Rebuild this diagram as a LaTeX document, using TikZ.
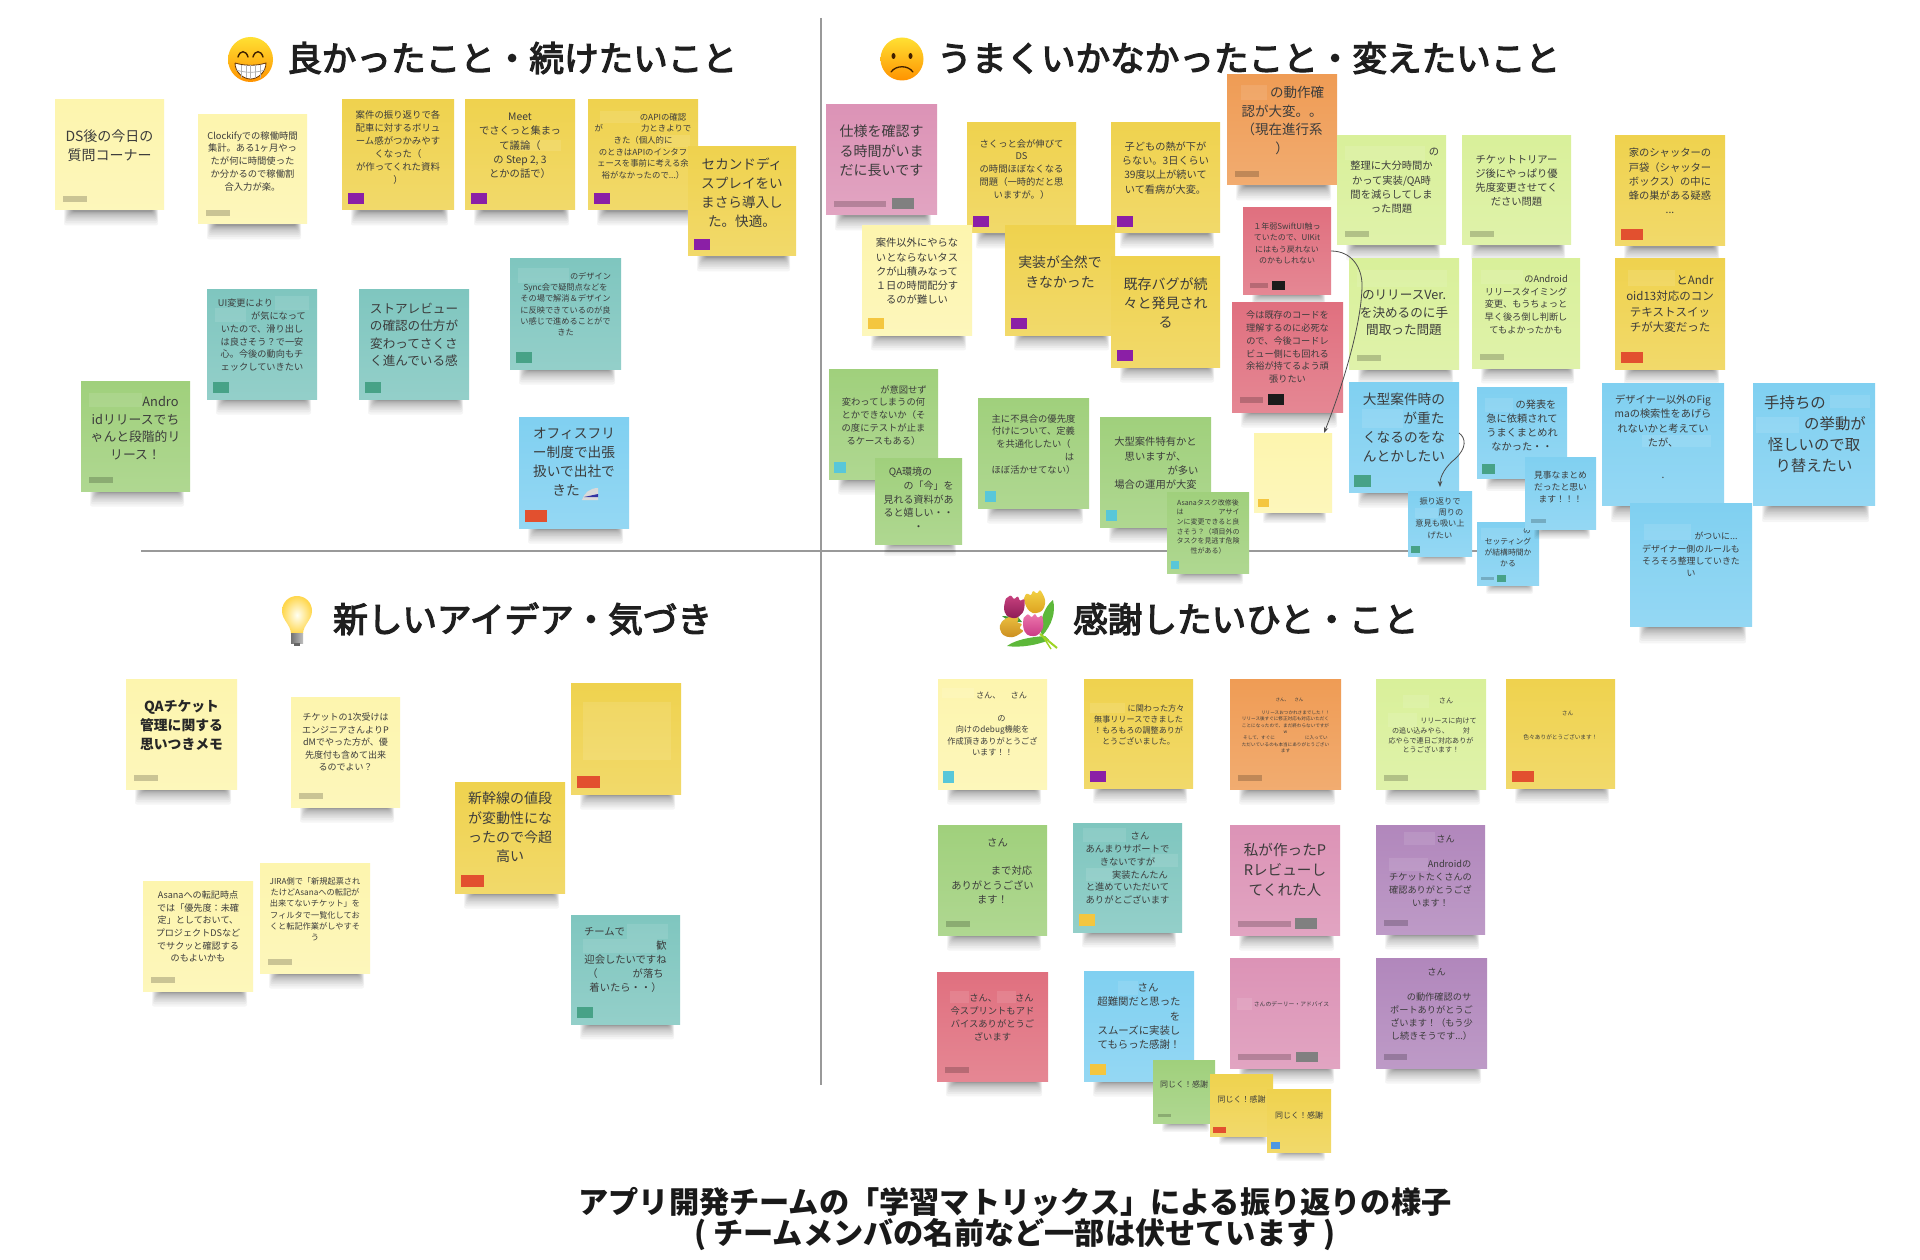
\documentclass[tikz,border=0pt]{standalone}
\usepackage{fontspec}
\setmainfont{Noto Sans CJK JP}
\newfontfamily\headfont[FakeBold=3.5]{Noto Sans CJK JP}
\usepackage{tikz}
\usetikzlibrary{arrows.meta, positioning, calc}
\definecolor{NoteLemon}{HTML}{FDF5AE}
\definecolor{NoteGold}{HTML}{EFD24E}
\definecolor{NoteTeal}{HTML}{7FC6BF}
\definecolor{NoteGreen}{HTML}{A0D07C}
\definecolor{NoteLime}{HTML}{D9F09A}
\definecolor{NoteBlue}{HTML}{80D0F1}
\definecolor{NotePink}{HTML}{DC93B6}
\definecolor{NoteOrange}{HTML}{EF9C55}
\definecolor{NoteRed}{HTML}{E0707F}
\definecolor{NotePurple}{HTML}{B187BC}
\definecolor{TagPurple}{HTML}{8B1FA6}
\definecolor{TagRed}{HTML}{E2502F}
\definecolor{TagTeal}{HTML}{47A287}
\definecolor{TagCyan}{HTML}{58C7D9}
\definecolor{TagAmber}{HTML}{F4C63F}
\definecolor{TagBlack}{HTML}{1B1B1B}
\definecolor{TagGray}{HTML}{808080}
\definecolor{TagBlue}{HTML}{4C97E2}
\definecolor{MemoInk}{HTML}{3C3C3C}
\definecolor{TulipGold}{HTML}{F2D245}
\definecolor{TulipAmber}{HTML}{DDA11F}
\definecolor{TulipSand}{HTML}{EBC040}
\definecolor{TulipOchre}{HTML}{C98A1E}
\definecolor{TulipPlum}{HTML}{C8417F}
\definecolor{TulipWine}{HTML}{8C1C55}
\definecolor{TulipRose}{HTML}{EE78AE}
\definecolor{TulipCerise}{HTML}{C93A85}
\definecolor{LeafGreen}{HTML}{5DB83A}
\definecolor{LeafDark}{HTML}{3E9A35}
\newcommand{\gap}[1]{\hspace*{#1pt}}
% name, colour, left, top, width, height
\newcommand{\sticky}[6]{
  \foreach \k in {0,...,11}
    \fill[black, opacity=.038, rounded corners=2pt] ({#3+9+\k*.8},{#4+#6-4}) rectangle ({#3+#5-6-\k*.5},{#4+#6+(1.5+14*(1-\k/12)*(1-\k/12))*(#6/110)});
  \node[note=#2, minimum width=#5pt, minimum height=#6pt] (#1) at (#3,#4) {};
}
% name, size, top offset, lines
\newcommand{\memo}[4]{
  \pgfmathsetmacro\memolead{#2*1.38}
  \node[memotext, font=\fontsize{#2}{\memolead}\selectfont] (#1text) at ($(#1.north)+(0,#3)$) {#4};
}
\newcommand{\memotag}[5][6,-6]{
  \node[tagbox, fill=#3, minimum width=#4pt, minimum height=#5pt] (#2tag) at ($(#2.south west)+(#1)$) {};
}
\newcommand{\memobar}[4][8,-8]{
  \node[tagbox, fill=black, fill opacity=.2, minimum width=#3pt, minimum height=#4pt] (#2bar) at ($(#2.south west)+(#1)$) {};
}
\newcommand{\masked}[4]{
  \fill[white, opacity=.1] (#1,#2) rectangle ++(#3,#4);
}
\begin{document}
\begin{tikzpicture}[x=1pt, y=-1pt,
    note/.style={top color=#1, bottom color=#1!84!white, anchor=north west, inner sep=0pt, outer sep=0pt},
    memotext/.style={text=MemoInk, align=center, anchor=north, inner sep=0pt},
    tagbox/.style={anchor=south west, inner sep=0pt, outer sep=0pt},
    heading/.style={text=black!88, anchor=west, inner sep=0pt, font=\fontsize{34.6}{40}\headfont},
    caption/.style={text=black!90, align=center, inner sep=0pt, font=\fontsize{30.2}{31}\selectfont\bfseries},
    axisline/.style={draw=black!40, line width=1.6pt},
    link/.style={draw=black!70, line width=.8pt, -{Stealth[length=6pt,width=4.5pt]}}]
  \useasboundingbox (0,0) rectangle (1920,1260);
  \fill[white] (0,0) rectangle (1920,1260);
  % quadrant lines
  \coordinate (axisTop) at (821,18);
  \coordinate (axisBottom) at (821,1085);
  \coordinate (axisLeft) at (141,551);
  \coordinate (axisRight) at (1500,551);
  \draw[axisline] (axisTop) -- (axisBottom);
  \draw[axisline] (axisLeft) -- (axisRight);

  % headings
  \node[heading] (goodTitle) at (287,58) {良かったこと・続けたいこと};
  \node[heading] (badTitle) at (937,58) {うまくいかなかったこと・変えたいこと};
  \node[heading] (ideaTitle) at (333,619) {新しいアイデア・気づき};
  \node[heading] (thanksTitle) at (1073,619) {感謝したいひと・こと};

  % grin
  \shade[top color=yellow!70!orange!80!white, bottom color=orange!85!yellow] (250.5,59.5) circle (22.5);
  \draw[black!75!orange, line width=1.4pt, line cap=round] (238,57) .. controls (240,50) and (246,50) .. (248,57);
  \draw[black!75!orange, line width=1.4pt, line cap=round] (253,57) .. controls (255,50) and (261,50) .. (263,57);
  \filldraw[fill=white, draw=black!60!orange, line width=.8pt] (235,63) .. controls (245,66) and (256,66) .. (266,63) .. controls (266,72) and (258,79) .. (250.5,79) .. controls (243,79) and (235,72) .. (235,63);
  \draw[black!35, line width=.7pt] (236,70) .. controls (245,73) and (256,73) .. (265,70);
  \foreach \tx in {241,246,250.5,255,260}
    \draw[black!30, line width=.6pt] (\tx,65) -- (\tx,78);
  % frown
  \shade[top color=yellow!70!orange!80!white, bottom color=orange!85!yellow] (902,59) circle (21.5);
  \fill[black!75!orange] (893.5,56) ellipse (2 and 3);
  \fill[black!75!orange] (910.5,56) ellipse (2 and 3);
  \draw[black!75!orange, line width=1.3pt, line cap=round] (891,72) .. controls (896,65) and (908,65) .. (913,72);
  % bulb
  \shade[inner color=yellow!5!white, outer color=yellow!55!orange!70!white] (291,634) .. controls (291,625) and (282,620) .. (282,611) .. controls (282,602) and (289,596) .. (297,596) .. controls (305,596) and (312,602) .. (312,611) .. controls (312,620) and (303,625) .. (303,634) -- cycle;
  \shade[left color=black!55, right color=black!25] (291,633) rectangle (303,643);
  \fill[black!60] (294,643) rectangle (300,646);
  % bouquet
  \fill[LeafGreen] (1040,628) .. controls (1042,612) and (1048,604) .. (1053,600) .. controls (1056,612) and (1052,625) .. (1042,636) -- cycle;
  \fill[LeafGreen] (1045,636) .. controls (1030,637) and (1015,640) .. (1007,646) .. controls (1020,648) and (1038,645) .. (1049,640) -- cycle;
  \fill[LeafDark] (1018,617) -- (1002,616) .. controls (1008,621) and (1014,623) .. (1022,622) -- cycle;
  \draw[LeafGreen!60!yellow, line width=2pt] (1040,634) -- (1057,648);
  \draw[LeafGreen!60!yellow, line width=1.4pt] (1042,635) -- (1051,649);
  \foreach \tx/\ty/\tr/\ta/\tb in {1035/602/15/TulipGold/TulipAmber, 1011/627/-70/TulipSand/TulipOchre, 1014/607/-15/TulipPlum/TulipWine, 1033/625/-5/TulipRose/TulipCerise}
    \shade[shift={(\tx,\ty)}, rotate=\tr, rounded corners=2pt, top color=\ta, bottom color=\tb] (-10,-6) -- (-6,-11) -- (-2,-7) -- (1,-12) -- (4,-7) -- (8,-11) -- (10,-4) .. controls (11,6) and (5,11) .. (0,11) .. controls (-6,11) and (-11,6) .. (-10,-6);

  %%% good things
  \sticky{memoDS}{NoteLemon}{55}{100}{109}{110}
  \memo{memoDS}{14}{29}{DS後の今日の\\質問コーナー}
  \memobar{memoDS}{24}{6}
  \sticky{memoClock}{NoteLemon}{198}{115}{109}{109}
  \memo{memoClock}{9.3}{16}{Clockifyでの稼働時間\\集計。ある1ヶ月やっ\\たが何に時間使った\\か分かるので稼働割\\合入力が楽。}
  \memobar{memoClock}{24}{6}
  \sticky{memoReview}{NoteGold}{342}{100}{112}{110}
  \memo{memoReview}{9.4}{10}{案件の振り返りで各\\配車に対するボリュ\\ーム感がつかみやす\\くなった（\gap{40}\\が作ってくれた資料\\）}
  \memotag{memoReview}{TagPurple}{16}{11}
  \sticky{memoMeet}{NoteGold}{465}{100}{110}{110}
  \masked{520}{140}{41}{11}
  \memo{memoMeet}{10.3}{13}{Meet\\でさくっと集まっ\\て議論（\gap{40}\\の Step 2, 3\\とかの話で）}
  \memotag{memoMeet}{TagPurple}{16}{11}
  \sticky{memoApi}{NoteGold}{588}{100}{110}{110}
  \masked{600}{111}{40}{12}
  \masked{657}{135}{33}{12}
  \memo{memoApi}{8.4}{13}{\gap{40}のAPIの確認\\が\gap{38}力ときよりで\\きた（個人的に\gap{35}\\のときはAPIのインタフ\\ェースを事前に考える余\\裕がなかったので...）}
  \memotag{memoApi}{TagPurple}{16}{11}
  \sticky{memoDisplay}{NoteGold}{688}{147}{108}{109}
  \memo{memoDisplay}{13.6}{11}{セカンドディ\\スプレイをい\\まさら導入し\\た。快適。}
  \memotag{memoDisplay}{TagPurple}{16}{11}
  \sticky{memoAndro}{NoteGreen}{81}{381}{109}{110}
  \masked{89}{393}{53}{14}
  \memo{memoAndro}{12.8}{15}{\gap{50}Andro\\idリリースでち\\ゃんと段階的リ\\リース！}
  \memobar{memoAndro}{24}{6}
  \sticky{memoUi}{NoteTeal}{207}{289}{110}{110}
  \masked{275}{296}{34}{14}
  \masked{215}{308}{31}{14}
  \memo{memoUi}{9.2}{10}{UI変更により\gap{33}\\\gap{33}が気になって\\いたので、滑り出し\\は良さそう？で一安\\心。今後の動向もチ\\ェックしていきたい}
  \memotag{memoUi}{TagTeal}{16}{11}
  \sticky{memoStore}{NoteTeal}{359}{289}{110}{110}
  \memo{memoStore}{12.6}{14}{ストアレビュー\\の確認の仕方が\\変わってさくさ\\く進んでいる感}
  \memotag{memoStore}{TagTeal}{16}{11}
  \sticky{memoSync}{NoteTeal}{510}{259}{111}{110}
  \masked{518}{268}{51}{15}
  \memo{memoSync}{8.2}{13}{\gap{50}のデザイン\\Sync会で疑問点などを\\その場で解消＆デザイン\\に反映できているのが良\\い感じで進めることがで\\きた}
  \memotag{memoSync}{TagTeal}{16}{11}
  \sticky{memoOffice}{NoteBlue}{519}{417}{110}{111}
  \memo{memoOffice}{13.7}{11}{オフィスフリ\\ー制度で出張\\扱いで出社で\\きた\gap{16}}
  \memotag{memoOffice}{TagRed}{22}{12}
  % train
  \fill[black!15] (582,500) .. controls (584,493) and (590,488) .. (598,488) -- (598,500) -- cycle;
  \fill[blue!55!black!80] (584,497) -- (598,494) -- (598,497) -- cycle;

  %%% bad things
  \sticky{memoSpec}{NotePink}{826}{105}{111}{110}
  \memo{memoSpec}{14}{20}{仕様を確認す\\る時間がいま\\だに長いです}
  \memobar{memoSpec}{52}{6}
  \memotag[66,-6]{memoSpec}{TagGray}{22}{11}
  \sticky{memoShort}{NoteGold}{967}{123}{109}{110}
  \memo{memoShort}{9.3}{16}{さくっと会が伸びて\\DS\\の時間ほぼなくなる\\問題（一時的だと思\\いますが。）}
  \memotag{memoShort}{TagPurple}{16}{11}
  \sticky{memoKids}{NoteGold}{1111}{123}{109}{110}
  \memo{memoKids}{10.2}{19}{子どもの熱が下が\\らない。3日くらい\\39度以上が続いて\\いて看病が大変。}
  \memotag{memoKids}{TagPurple}{16}{11}
  \sticky{memoCheck}{NoteOrange}{1227}{75}{110}{110}
  \masked{1241}{85}{26}{15}
  \memo{memoCheck}{13.5}{11}{\gap{30}の動作確\\認が大変。。\\（現在進行系\\）}
  \memobar{memoCheck}{24}{6}
  \sticky{memoTasks}{NoteLemon}{862}{226}{110}{109}
  \memo{memoTasks}{10.3}{12}{案件以外にやらな\\いとならないタス\\クが山積みなって\\１日の時間配分す\\るのが難しい}
  \memotag{memoTasks}{TagAmber}{16}{11}
  \sticky{memoImpl}{NoteGold}{1005}{226}{110}{109}
  \memo{memoImpl}{13.9}{30}{実装が全然で\\きなかった}
  \memotag{memoImpl}{TagPurple}{16}{11}
  \sticky{memoBugs}{NoteGold}{1111}{257}{109}{110}
  \memo{memoBugs}{14}{20}{既存バグが続\\々と発見され\\る}
  \memotag{memoBugs}{TagPurple}{16}{11}
  \sticky{memoSwift}{NoteRed}{1243}{208}{88}{86}
  \memo{memoSwift}{8}{15}{１年弱SwiftUI触っ\\ていたので、UIKit\\にはもう戻れない\\のかもしれない}
  \memobar[7,-6]{memoSwift}{18}{5}
  \memotag[29,-4]{memoSwift}{TagBlack}{13}{9}
  \sticky{memoCode}{NoteRed}{1232}{302}{111}{110}
  \memo{memoCode}{9.2}{9}{今は既存のコードを\\理解するのに必死な\\ので、今後コードレ\\ビュー側にも回れる\\余裕が持てるよう頑\\張りたい}
  \memobar[8,-9]{memoCode}{23}{6}
  \memotag[36,-7]{memoCode}{TagBlack}{16}{11}
  \sticky{memoSort}{NoteLime}{1337}{136}{109}{109}
  \masked{1345}{146}{80}{14}
  \memo{memoSort}{10.3}{12}{\gap{85}の\\整理に大分時間か\\かって実装/QA時\\間を減らしてしま\\った問題}
  \memobar{memoSort}{24}{6}
  \sticky{memoTriage}{NoteLime}{1462}{136}{109}{109}
  \memo{memoTriage}{10.3}{19}{チケットトリアー\\ジ後にやっぱり優\\先度変更させてく\\ださい問題}
  \memobar{memoTriage}{24}{6}
  \sticky{memoBees}{NoteGold}{1615}{136}{110}{110}
  \memo{memoBees}{10.3}{12}{家のシャッターの\\戸袋（シャッター\\ボックス）の中に\\蜂の巣がある疑惑\\...}
  \memotag{memoBees}{TagRed}{22}{11}
  \sticky{memoVer}{NoteLime}{1349}{259}{110}{110}
  \masked{1357}{270}{90}{17}
  \memo{memoVer}{12.6}{31}{のリリースVer.\\を決めるのに手\\間取った問題}
  \memobar{memoVer}{24}{6}
  \sticky{memoTiming}{NoteLime}{1472}{259}{108}{109}
  \masked{1481}{270}{42}{14}
  \memo{memoTiming}{9.2}{16}{\gap{40}のAndroid\\リリースタイミング\\変更、もうちょっと\\早く後ろ倒し判断し\\てもよかったかも}
  \memobar{memoTiming}{24}{6}
  \sticky{memoAndroid}{NoteGold}{1615}{259}{110}{110}
  \masked{1628}{270}{47}{16}
  \memo{memoAndroid}{11.5}{16}{\gap{50}とAndr\\oid13対応のコン\\テキストスイッ\\チが大変だった}
  \memotag{memoAndroid}{TagRed}{22}{11}
  \sticky{memoChange}{NoteGreen}{829}{369}{109}{110}
  \memo{memoChange}{9.3}{16}{\gap{40}が意図せず\\変わってしまうの何\\とかできないか（そ\\の度にテストが止ま\\るケースもある）}
  \memotag[5,-6]{memoChange}{TagCyan}{12}{11}
  \sticky{memoNow}{NoteGreen}{875}{458}{87}{86}
  \memo{memoNow}{10}{9}{QA環境の\gap{16}\\\gap{20}の「今」を\\見れる資料があ\\ると嬉しい・・\\・}
  \sticky{memoPrio}{NoteGreen}{978}{398}{111}{110}
  \memo{memoPrio}{9.3}{16}{主に不具合の優先度\\付けについて、定義\\を共通化したい（\gap{10}\\\gap{72}は\\ほぼ活かせてない）}
  \memotag[7,-6]{memoPrio}{TagCyan}{11}{11}
  \sticky{memoLarge}{NoteGreen}{1100}{417}{111}{110}
  \memo{memoLarge}{10.3}{20}{大型案件特有かと\\思いますが、\gap{21}\\\gap{55}が多い\\場合の運用が大変}
  \memotag{memoLarge}{TagCyan}{11}{11}
  \sticky{memoAsana}{NoteGreen}{1167}{492}{82}{81}
  \memo{memoAsana}{7}{7}{Asanaタスク改修後\\は\gap{35}アサイ\\ンに変更できると良\\さそう？（項目外の\\タスクを見逃す危険\\性がある）}
  \memotag[4,-4]{memoAsana}{TagCyan}{8}{8}
  \sticky{memoBlank}{NoteLemon}{1254}{433}{78}{79}
  \memotag[4,-5]{memoBlank}{TagAmber}{11}{8}
  \sticky{memoHeavy}{NoteBlue}{1349}{382}{110}{110}
  \masked{1362}{409}{41}{19}
  \memo{memoHeavy}{13.7}{11}{大型案件時の\\\gap{40}が重た\\くなるのをな\\んとかしたい}
  \memotag[5,-5]{memoHeavy}{TagTeal}{17}{12}
  \sticky{memoTalk}{NoteBlue}{1477}{387}{90}{91}
  \masked{1485}{398}{28}{14}
  \memo{memoTalk}{10.2}{13}{\gap{28}の発表を\\急に依頼されて\\うまくまとめれ\\なかった・・}
  \memotag[5,-4]{memoTalk}{TagTeal}{13}{10}
  \sticky{memoSetup}{NoteBlue}{1477}{522}{62}{63}
  \masked{1481}{528}{43}{12}
  \memo{memoSetup}{7.8}{6}{\gap{38}の\\セッティング\\が結構時間か\\かる}
  \memobar[4,-5]{memoSetup}{13}{3}
  \memotag[20,-3]{memoSetup}{TagTeal}{9}{7}
  \sticky{memoPraise}{NoteBlue}{1525}{457}{71}{72}
  \memo{memoPraise}{8.8}{14}{見事なまとめ\\だったと思い\\ます！！！}
  \memobar[6,-6]{memoPraise}{15}{4}
  \sticky{memoVoice}{NoteBlue}{1408}{491}{64}{65}
  \masked{1415}{508}{23}{10}
  \memo{memoVoice}{8.2}{6}{振り返りで\\\gap{22}周りの\\意見も吸い上\\げたい}
  \memotag[3,-3]{memoVoice}{TagTeal}{9}{7}
  \sticky{memoFigma}{NoteBlue}{1602}{383}{122}{122}
  \masked{1642}{435}{69}{12}
  \memo{memoFigma}{10.2}{12}{デザイナー以外のFig\\maの検索性をあげら\\れないかと考えてい\\たが、\gap{68}\\[18pt].}
  \sticky{memoSwap}{NoteBlue}{1753}{383}{122}{122}
  \masked{1830}{395}{40}{13}
  \masked{1756}{417}{43}{16}
  \memo{memoSwap}{15.4}{12}{手持ちの\gap{38}\\\gap{42}の挙動が\\怪しいので取\\り替えたい}
  \sticky{memoRule}{NoteBlue}{1630}{503}{122}{123}
  \masked{1644}{524}{47}{16}
  \memo{memoRule}{8.9}{29}{\gap{50}がついに...\\デザイナー側のルールも\\そろそろ整理していきた\\い}

  %%% ideas
  \sticky{memoIdea}{NoteLemon}{126}{679}{111}{110}
  \memo{memoIdea}{13.8}{21}{\bfseries\color{black!85} QAチケット\\\bfseries\color{black!85}管理に関する\\\bfseries\color{black!85}思いつきメモ}
  \memobar{memoIdea}{24}{6}
  \sticky{memoFirst}{NoteLemon}{291}{697}{109}{110}
  \memo{memoFirst}{9}{16}{チケットの1次受けは\\エンジニアさんよりP\\dMでやった方が、優\\先度付も含めて出来\\るのでよい？}
  \memobar{memoFirst}{24}{6}
  \sticky{memoGold}{NoteGold}{571}{683}{110}{111}
  \masked{583}{702}{88}{58}
  \memotag{memoGold}{TagRed}{23}{12}
  \sticky{memoTrain}{NoteGold}{455}{782}{110}{111}
  \memo{memoTrain}{14}{10}{新幹線の値段\\が変動性にな\\ったので今超\\高い}
  \memotag{memoTrain}{TagRed}{23}{12}
  \sticky{memoPort}{NoteLemon}{143}{881}{110}{110}
  \memo{memoPort}{9.1}{10}{Asanaへの転記時点\\では「優先度：未確\\定」としておいて、\\プロジェクトDSなど\\でサクッと確認する\\のもよいかも}
  \memobar{memoPort}{24}{6}
  \sticky{memoJira}{NoteLemon}{260}{863}{110}{110}
  \memo{memoJira}{8.2}{14}{JIRA側で「新規起票され\\たけどAsanaへの転記が\\出来てないチケット」を\\フィルタで一覧化してお\\くと転記作業がしやすそ\\う}
  \memobar{memoJira}{24}{6}
  \sticky{memoWelcome}{NoteTeal}{571}{915}{109}{109}
  \masked{627}{924}{41}{15}
  \masked{583}{939}{74}{14}
  \memo{memoWelcome}{10.3}{12}{チームで\gap{42}\\\gap{72}歓\\迎会したいですね\\（\gap{35}が落ち\\着いたら・・）}
  \memotag{memoWelcome}{TagTeal}{16}{11}

  %%% thanks
  \sticky{memoDebug}{NoteLemon}{938}{679}{109}{110}
  \masked{942}{688}{32}{10}
  \memo{memoDebug}{8.2}{13}{\gap{18}さん、\gap{10}さん\\~\\\gap{18}の\\向けのdebug機能を\\作成頂きありがとうござ\\います！！}
  \memotag[5,-6]{memoDebug}{TagCyan}{11}{12}
  \sticky{memoShip}{NoteGold}{1084}{679}{109}{109}
  \masked{1090}{703}{35}{10}
  \memo{memoShip}{8.1}{25}{\gap{35}に関わった方々\\無事リリースできました\\！もろもろの調整ありが\\とうございました。}
  \memotag{memoShip}{TagPurple}{16}{11}
  \sticky{memoTiny}{NoteOrange}{1230}{679}{111}{110}
  \memo{memoTiny}{4.6}{19}{\gap{8}さん、\gap{5}さん\\~\\\gap{20}リリースおつかれさまでした！！\\リリース後すぐに修正対応も対応いただく\\ことになったので、まだ終わらないですが\\w\\そして、すぐに\gap{30}に入ってい\\ただいているのも本当にありがとうござい\\ます}
  \memobar{memoTiny}{24}{6}
  \sticky{memoRush}{NoteLime}{1376}{679}{110}{110}
  \masked{1403}{695}{26}{13}
  \masked{1388}{713}{29}{14}
  \memo{memoRush}{7.1}{19}{\gap{30}さん\\~\\\gap{35}リリースに向けて\\の追い込みやら、\gap{14}対\\応やらで連日ご対応ありが\\とうございます！}
  \memobar{memoRush}{24}{6}
  \sticky{memoMany}{NoteGold}{1506}{679}{109}{109}
  \memo{memoMany}{5.7}{32}{\gap{14}さん\\[16pt]色々ありがとうございます！}
  \memotag{memoMany}{TagRed}{22}{11}
  \sticky{memoSupport}{NoteGreen}{938}{825}{109}{110}
  \memo{memoSupport}{10.3}{13}{\gap{10}さん\\~\\\gap{38}まで対応\\ありがとうござい\\ます！}
  \memobar{memoSupport}{24}{6}
  \sticky{memoSteady}{NoteTeal}{1073}{823}{109}{109}
  \masked{1083}{828}{43}{14}
  \masked{1151}{854}{27}{13}
  \masked{1086}{868}{27}{13}
  \memo{memoSteady}{9.3}{9}{\gap{25}さん\\あんまりサポートで\\きないですが\gap{25}\\\gap{25}実装たんたん\\と進めていただいて\\ありがとございます}
  \memotag{memoSteady}{TagAmber}{16}{12}
  \sticky{memoPull}{NotePink}{1230}{825}{110}{110}
  \memo{memoPull}{14.6}{18}{私が作ったP\\Rレビューし\\てくれた人}
  \memobar{memoPull}{53}{6}
  \memotag[65,-6]{memoPull}{TagGray}{22}{11}
  \sticky{memoTickets}{NotePurple}{1376}{825}{109}{109}
  \masked{1404}{832}{31}{13}
  \masked{1389}{858}{39}{13}
  \memo{memoTickets}{9.2}{10}{\gap{30}さん\\~\\\gap{38}Androidの\\チケットたくさんの\\確認ありがとうござ\\います！}
  \memobar{memoTickets}{24}{6}
  \sticky{memoSprint}{NoteRed}{937}{972}{111}{109}
  \masked{950}{991}{19}{12}
  \masked{997}{991}{19}{12}
  \memo{memoSprint}{9.3}{22}{\gap{18}さん、\gap{18}さん\\今スプリントもアド\\バイスありがとうご\\ざいます}
  \memobar{memoSprint}{24}{6}
  \sticky{memoHard}{NoteBlue}{1084}{971}{110}{110}
  \masked{1118}{981}{20}{14}
  \memo{memoHard}{10.4}{12}{\gap{18}さん\\超難関だと思った\\\gap{72}を\\スムーズに実装し\\てもらった感謝！}
  \memotag{memoHard}{TagAmber}{16}{11}
  \sticky{memoDaily}{NotePink}{1230}{958}{110}{110}
  \masked{1237}{998}{15}{12}
  \memo{memoDaily}{5.8}{43}{\gap{13}さんのデーリー・アドバイス}
  \memobar{memoDaily}{53}{6}
  \memotag[66,-6]{memoDaily}{TagGray}{22}{10}
  \sticky{memoVerify}{NotePurple}{1376}{958}{111}{110}
  \memo{memoVerify}{9.2}{10}{\gap{10}さん\\~\\\gap{15}の動作確認のサ\\ポートありがとうご\\ざいます！（もう少\\し続きそうです...）}
  \memobar{memoVerify}{23}{6}
  \sticky{memoSameA}{NoteGreen}{1153}{1060}{62}{63}
  \memo{memoSameA}{8}{21}{同じく！感謝}
  \memobar[5,-6]{memoSameA}{13}{3}
  \sticky{memoSameB}{NoteGold}{1210}{1074}{63}{62}
  \memo{memoSameB}{8}{22}{同じく！感謝}
  \memotag[3,-3]{memoSameB}{TagRed}{13}{6}
  \sticky{memoSameC}{NoteGold}{1267}{1089}{64}{63}
  \memo{memoSameC}{8}{23}{同じく！感謝}
  \memotag[4,-3]{memoSameC}{TagBlue}{9}{7}

  % connectors
  \draw[link] (memoSwift.east) .. controls (1352,251) and (1362,268) .. (1362,285) .. controls (1362,320) and (1345,380) .. ([xshift=-8pt]memoBlank.north east);
  \draw[link, shorten >=4pt] ([yshift=4pt]memoHeavy.east) .. controls (1466,438) and (1467,448) .. (1455,459) .. controls (1446,466) and (1440,476) .. (memoVoice.north);

  \node[caption] (boardCaption) at (1015,1219) {アプリ開発チームの「学習マトリックス」による振り返りの様子\\( チームメンバの名前など一部は伏せています )};
\end{tikzpicture}
\end{document}
